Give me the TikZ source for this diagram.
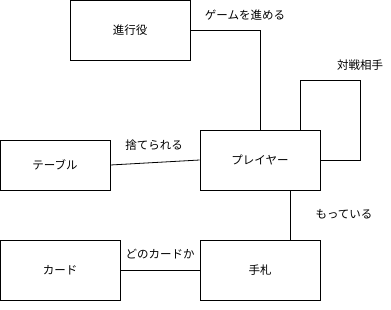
\documentclass[tikz,border=0pt]{standalone}
\usepackage{fontspec}
\setmainfont{Noto Sans CJK JP}
\usetikzlibrary{positioning}
\tikzset{
box/.style={draw, line width=0.8pt, minimum width=120pt, minimum height=60pt, inner sep=0pt},
rel/.style={inner sep=0pt, font=\fontsize{11.5}{13}\selectfont},
link/.style={line width=0.8pt},
}

\begin{document}
\begin{tikzpicture}[x=1pt, y=-1pt, font=\fontsize{11.5}{13}\selectfont]
\useasboundingbox (0,0) rectangle (391,309);

\node[box] (boss) at (130,30.5) {進行役};
\node[box] (player) at (260,160) {プレイヤー};
\node[box, minimum width=110pt, minimum height=50pt] (table) at (55,165) {テーブル};
\node[box] (card) at (60,270) {カード};
\node[box] (hand) at (260,270) {手札};

% self loop corners
\coordinate (loopA) at (300,80);
\coordinate (loopB) at (360,80);
\coordinate (loopC) at (360,160);

\draw[link] (boss.east) -| (player.north);
\draw[link] ([xshift=40pt]player.north) -- (loopA) -- (loopB) -- (loopC) -- (player.east);
\draw[link] (table.east) -- (player.west);
\draw[link] ([xshift=30pt]player.south) -- ([xshift=30pt]hand.north);
\draw[link] (card) -- (hand);

\node[rel] (lgame) at (245,15) {ゲームを進める};
\node[rel] (lrival) at (360,65) {対戦相手};
\node[rel] (lthrow) at (154,145) {捨てられる};
\node[rel] (lhave) at (344,214) {もっている};
\node[rel] (lwhich) at (160,254) {どのカードか};
\end{tikzpicture}
\end{document}
